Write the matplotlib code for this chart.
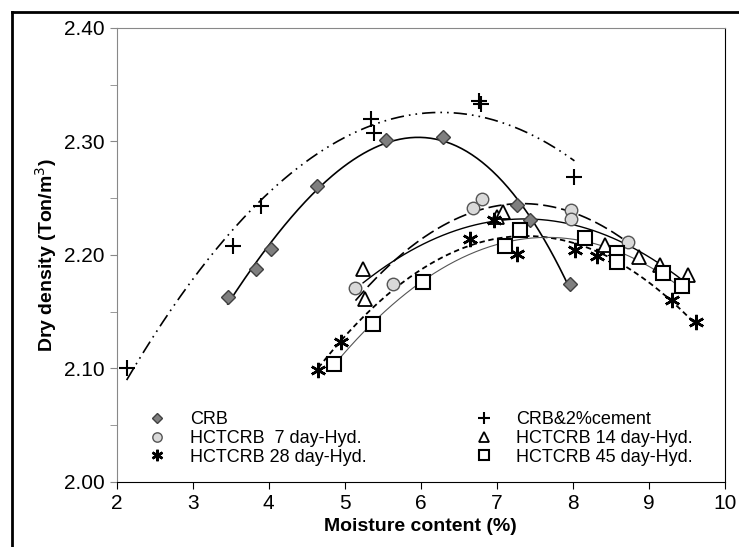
import numpy as np
import matplotlib.pyplot as plt

plt.rcParams['font.family'] = ['Liberation Sans', 'DejaVu Sans']

# data
crb_x = [3.46, 3.83, 4.03, 4.64, 5.54, 6.29, 7.26, 7.44, 7.96]
crb_y = [2.163, 2.188, 2.205, 2.261, 2.301, 2.304, 2.244, 2.231, 2.174]
cem_x = [2.13, 3.53, 3.90, 5.35, 5.38, 6.77, 6.79, 8.02]
cem_y = [2.100, 2.208, 2.243, 2.320, 2.307, 2.336, 2.333, 2.269]
d7_x = [5.14, 5.63, 6.69, 6.80, 7.97, 7.97, 8.73]
d7_y = [2.171, 2.174, 2.241, 2.249, 2.240, 2.232, 2.211]
d14_x = [5.24, 5.26, 7.00, 7.08, 8.42, 8.87, 9.14, 9.51]
d14_y = [2.188, 2.161, 2.233, 2.238, 2.209, 2.198, 2.191, 2.182]
d28_x = [4.65, 4.95, 6.65, 6.96, 7.27, 8.03, 8.32, 8.56, 9.30, 9.62]
d28_y = [2.099, 2.123, 2.214, 2.231, 2.201, 2.204, 2.199, 2.197, 2.160, 2.141]
d45_x = [4.86, 5.37, 6.03, 7.11, 7.30, 8.16, 8.58, 8.58, 9.18, 9.44]
d45_y = [2.104, 2.139, 2.176, 2.208, 2.222, 2.215, 2.202, 2.194, 2.184, 2.173]

fig = plt.figure(figsize=(7.39, 5.47), dpi=100)
ax = fig.add_axes([0.158, 0.119, 0.823, 0.830])

series = [
    ("CRB", crb_x, crb_y, dict(marker='D', ms=7, mfc='#7f7f7f', mec='#404040'), 3, dict(color='black', lw=1.2, ls='-')),
    ("CRB&2%cement", cem_x, cem_y, dict(marker='+', ms=11, mfc='none', mec='black', mew=1.5), 2, dict(color='black', lw=1.2, ls=(0, (8, 3, 1, 3, 1, 3)))),
    ("HCTCRB  7 day-Hyd.", d7_x, d7_y, dict(marker='o', ms=9, mfc='#d9d9d9', mec='#555555'), 2, dict(color='black', lw=1.2, ls=(0, (8, 3)))),
    ("HCTCRB 14 day-Hyd.", d14_x, d14_y, dict(marker='^', ms=10, mfc='white', mec='black', mew=1.3), 2, dict(color='black', lw=1.0, ls='-')),
    ("HCTCRB 28 day-Hyd.", d28_x, d28_y, dict(marker=(6, 2, 0), ms=11, mfc='none', mec='black', mew=1.8), 2, dict(color='black', lw=1.3, ls=(0, (3, 2)))),
    ("HCTCRB 45 day-Hyd.", d45_x, d45_y, dict(marker='s', ms=10, mfc='white', mec='black', mew=1.5), 2, dict(color='#555555', lw=0.8, ls='-')),
]

for label, x, y, mk, deg, lk in series:
    coef = np.polyfit(x, y, deg)
    xs = np.linspace(min(x), max(x), 200)
    ax.plot(xs, np.polyval(coef, xs), zorder=2, **lk)
    ax.plot(x, y, ls='none', label=label, zorder=3, **mk)

ax.set_xlim(2, 10)
ax.set_ylim(2.00, 2.40)
ax.set_xticks(range(2, 11))
ax.set_yticks([2.00, 2.10, 2.20, 2.30, 2.40])
ax.set_yticks(np.arange(2.0, 2.41, 0.05), minor=True)
ax.set_yticklabels(['2.00', '2.10', '2.20', '2.30', '2.40'])
ax.tick_params(axis='y', which='both', direction='out', length=5, labelsize=15, color='#888888')
ax.tick_params(axis='x', direction='out', length=5, labelsize=15)
for s in ['left', 'top']:
    ax.spines[s].set_color('#888888')
for s in ['right', 'bottom']:
    ax.spines[s].set_color('black')
ax.set_xlabel("Moisture content (%)", fontsize=14, fontweight='bold')
ax.set_ylabel("Dry density (Ton/m$^3$)", fontsize=14, fontweight='bold')

h, l = ax.get_legend_handles_labels()
order = [0, 2, 4, 1, 3, 5]
ax.legend([h[i] for i in order], [l[i] for i in order], ncol=2, frameon=False,
          loc='lower left', bbox_to_anchor=(0.01, 0.0), fontsize=13,
          markerscale=0.75, columnspacing=5.5, handletextpad=0.8, labelspacing=0.1)

# outer border (top and left)
fig.add_artist(plt.Line2D([0.016, 1], [0.978, 0.978], color='black', lw=2))
fig.add_artist(plt.Line2D([0.016, 0.016], [0, 0.978], color='black', lw=2))

fig.savefig("out.png", dpi=100)
